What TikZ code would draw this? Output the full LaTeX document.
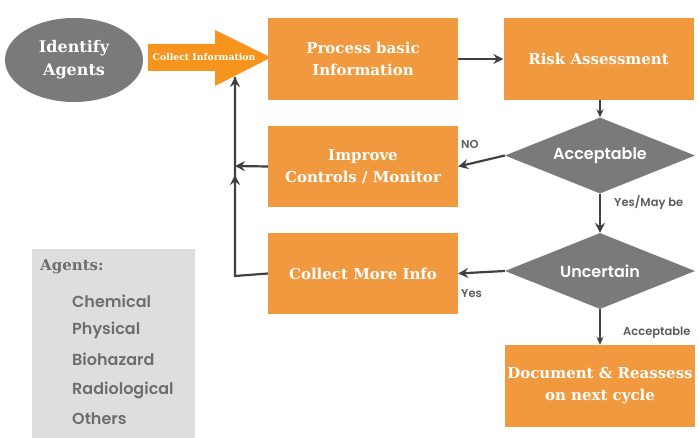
\documentclass[tikz,border=0pt]{standalone}
\usepackage{fontspec}
\usetikzlibrary{arrows.meta,shapes.geometric}
\newfontfamily\slab{DejaVu Serif}
\newfontfamily\geo{Poppins}[BoldFont={Poppins SemiBold}]
\definecolor{boxor}{HTML}{F0993E}
\definecolor{arrowor}{HTML}{F7941D}
\definecolor{shapegray}{HTML}{7A7A7A}
\definecolor{linegray}{HTML}{404040}
\definecolor{labgray}{HTML}{5C5C5C}
\definecolor{panelgray}{HTML}{DEDEDE}
\definecolor{itemgray}{HTML}{6E6E6E}
\tikzset{
  box/.style={fill=boxor, draw=none, minimum width=190pt, minimum height=82pt, inner sep=0pt,
    align=center, text=white, font=\slab\bfseries\fontsize{15}{22}\selectfont},
  dia/.style={diamond, aspect=2.5, fill=shapegray, draw=none, minimum width=190pt, minimum height=76pt, inner sep=0pt,
    text=white, font=\geo\bfseries\fontsize{16}{18}\selectfont},
  conn/.style={draw=linegray, line width=2.2pt, -{Stealth[length=10pt,width=10pt,inset=3.5pt]}},
  thinconn/.style={draw=linegray, line width=1.4pt, -{Stealth[length=8pt,width=7pt,inset=2.5pt]}},
  lab/.style={text=labgray, font=\geo\bfseries\fontsize{11.5}{13}\selectfont, inner sep=0pt},
  item/.style={text=itemgray, font=\geo\bfseries\fontsize{16}{19}\selectfont, anchor=west, inner sep=0pt},
}
\begin{document}
\begin{tikzpicture}[x=1pt,y=-1pt]
\useasboundingbox (0,0) rectangle (699,438);
% agents panel
\node[fill=panelgray, minimum width=163pt, minimum height=189pt, inner sep=0pt, anchor=north west] (panel) at (32,249) {};
\node[anchor=west, inner sep=0pt, text=itemgray, font=\slab\bfseries\fontsize{15}{18}\selectfont] (agh) at (40,267) {Agents:};
\node[item] (i1) at (72,301) {Chemical};
\node[item] (i2) at (72,330) {Physical};
\node[item] (i3) at (72,359) {Biohazard};
\node[item] (i4) at (72,390) {Radiological};
\node[item] (i5) at (72,419) {Others};
% identify agents
\node[ellipse, fill=shapegray, minimum width=138pt, minimum height=84pt, inner sep=0pt, align=center,
  text=white, font=\slab\bfseries\fontsize{16}{23}\selectfont] (ida) at (74,60) {\rule{0pt}{6pt}Identify\\Agents};
% collect information arrow
\fill[arrowor] (148,44) -- (215,44) -- (215,30) -- (271,57.5) -- (215,86) -- (215,71) -- (148,71) -- cycle;
\coordinate (citip) at (271,57.5);
\node[text=white, inner sep=0pt, font=\slab\bfseries\fontsize{9.3}{10}\selectfont] (ci) at (204,57.5) {Collect Information};
% boxes
\node[box] (proc) at (363,59) {Process basic\\Information};
\node[box] (risk) at (598.5,59) {Risk Assessment};
\node[box, minimum height=81pt] (imp) at (363,166.5) {Improve\\Controls / Monitor};
\node[box, minimum height=81pt] (cmi) at (363,273.5) {Collect More Info};
\node[box] (doc) at (600,386) {Document \& Reassess\\on next cycle};
\node[dia] (acc) at (600,155.5) {Acceptable};
\node[dia] (unc) at (600,271) {Uncertain};
% connectors
\draw[conn] (proc.east) -- (risk.west);
\draw[thinconn] (risk.south -| acc.north) -- (acc.north);
\draw[conn] (acc.west) -- (imp.east);
\node[lab, anchor=south west] (no) at (461,149) {NO};
\draw[conn] (acc.south) -- (unc.north);
\node[lab, anchor=west] (ym) at (614,203) {Yes/May be};
\draw[conn] (unc.west) -- (cmi.east);
\node[lab, anchor=west] (yes) at (461,294) {Yes};
\draw[thinconn] (unc.south) -- (doc.north);
\node[lab, anchor=west] (acl) at (623,333) {Acceptable};
% return path
\coordinate (vb) at (235,276);
\coordinate (vm) at (235,166);
\coordinate (vt) at (235,77);
\draw[conn] (imp.west) -- (vm);
\draw[draw=linegray, line width=2.2pt, line cap=butt] (cmi.west) -- (vb) -- (vt);
\draw[conn] (vb) -- (235,175);
\draw[conn] (235,120) -- (vt);
\end{tikzpicture}
\end{document}
